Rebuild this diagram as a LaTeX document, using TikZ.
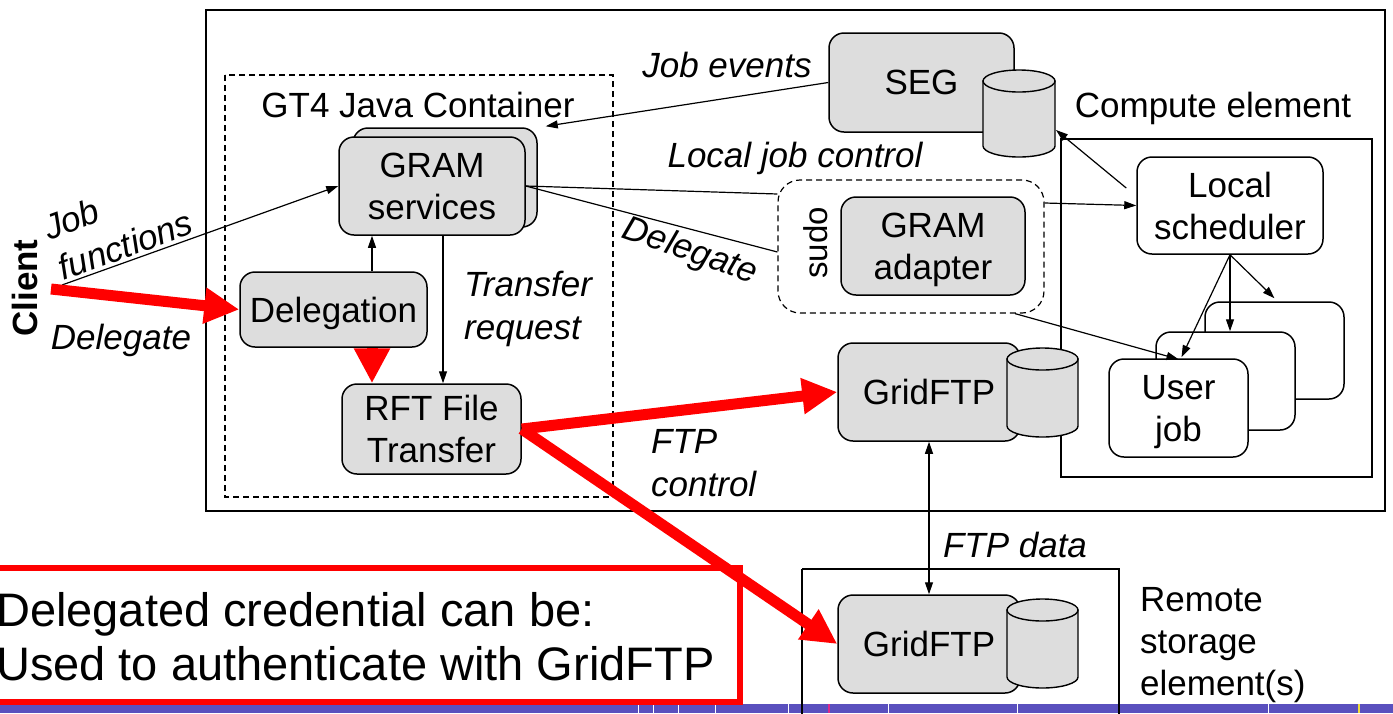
\documentclass[tikz,border=0pt]{standalone}
\usepackage{fontspec}
\setmainfont{Liberation Sans}
\usetikzlibrary{arrows.meta,calc}
\definecolor{boxgray}{RGB}{221,221,221}
\definecolor{stripblue}{RGB}{90,80,190}
\definecolor{pinktick}{RGB}{220,40,140}
\definecolor{yellowtick}{RGB}{240,220,60}
\newcommand{\mycyl}[4]{%
  \filldraw[fill=boxgray, line width=1.4pt] (#1,#3+11) -- (#1,#4-11)
    arc[start angle=180, end angle=0, x radius={(#2-#1)/2}, y radius=11] -- (#2,#3+11) -- cycle;
  \filldraw[fill=boxgray, line width=1.4pt] ({(#1+#2)/2},#3+11) ellipse[x radius={(#2-#1)/2}, y radius=11];
}
\begin{document}
\begin{tikzpicture}[x=1pt,y=-1pt,
  every node/.style={font=\fontsize{35}{42}\selectfont, inner sep=0pt, align=center},
  gbox/.style={draw, line width=1.5pt, fill=boxgray, rounded corners=15pt, text depth=0pt},
  wbox/.style={draw, line width=1.5pt, fill=white, rounded corners=15pt, text depth=0pt},
  lbl/.style={font=\fontsize{35}{43}\selectfont\itshape},
  dashline/.style={dash pattern=on 6pt off 4pt, line width=1.2pt},
  thinline/.style={line width=1.2pt},
  tarrow/.style={line width=1.2pt, -{Triangle[length=12pt,width=8pt]}},
  redarrow/.style={draw=red, line width=11pt, -{Triangle[length=35pt,width=34pt]}},
]
\useasboundingbox (0,0) rectangle (1393,713);
\fill[white] (0,0) rectangle (1393,713);

% bottom strip
\fill[stripblue] (0,704) rectangle (1393,713);
\foreach \xx in {638,653,678,715,788,888,1017,1268}
  \draw[white, line width=1pt] (\xx,704) -- (\xx,713);
\draw[pinktick, line width=1.5pt] (829,704) -- (829,713);
\draw[yellowtick, line width=1.5pt] (1359,704) -- (1359,713);

% frames
\draw[line width=2pt] (206,10) rectangle (1385,511);
\draw[line width=1.6pt] (1061,139) rectangle (1372,477);
\draw[dashline] (225,75) rectangle (613,497);
\draw[line width=1.4pt] (802,569) -- (802,715) (802,569) -- (1119,569) -- (1119,715);

% labels
\node (gt4) at (418,105) {GT4 Java Container};
\node (celabel) at (1213,108) {Compute element};
\node[anchor=west, align=left] (remlabel) at (1140,645) {Remote\\storage\\element(s)};
\node[font=\fontsize{35}{42}\selectfont\bfseries, rotate=90] (client) at (25,288) {Client};

% GRAM services
\node[gbox, minimum width=184pt, minimum height=99pt] (gramback) at (445,177.5) {};
\node[gbox, minimum width=186pt, minimum height=98pt] (gram) at (432,186) {GRAM\\services};
\node[gbox, minimum width=187pt, minimum height=75pt] (deleg) at (333.5,309.5) {Delegation};
\node[gbox, minimum width=179pt, minimum height=90pt] (rft) at (431.5,429) {RFT File\\Transfer};

% SEG
\node[gbox, minimum width=185pt, minimum height=99pt] (seg) at (921.5,82.5) {SEG};
\mycyl{983}{1055}{70}{157}
\coordinate (segcyl) at (1056,130);

% sudo / adapter
\node[draw, dashline, rounded corners=22pt, minimum width=266pt, minimum height=133pt] (sudo) at (911,246.5) {};
\node[font=\fontsize{33}{40}\selectfont, rotate=90] (sudotext) at (816,243) {sudo};
\node[gbox, minimum width=184pt, minimum height=98pt] (adapter) at (933,246) {GRAM\\adapter};

% compute element contents
\node[wbox, minimum width=186pt, minimum height=97pt] (local) at (1230,205.5) {Local\\scheduler};
\node[wbox, minimum width=139pt, minimum height=97pt] (uj3) at (1274.5,350.5) {};
\node[wbox, minimum width=139pt, minimum height=98pt] (uj2) at (1225.5,381) {};
\node[wbox, minimum width=139pt, minimum height=98pt] (uj1) at (1178.5,408) {User\\job};

% GridFTP
\node[gbox, minimum width=182pt, minimum height=98pt] (gftp1) at (929,392) {GridFTP};
\mycyl{1007}{1078}{348}{437}
\node[gbox, minimum width=182pt, minimum height=98pt] (gftp2) at (929,644) {GridFTP};
\mycyl{1007}{1078}{599}{688}

% callout
\draw[red, line width=6pt, fill=white] (-20,568) rectangle (740,702);
\node[anchor=west, align=left, font=\fontsize{47}{54}\selectfont] (callout) at (-4,637) {Delegated credential can be:\\Used to authenticate with GridFTP};

% edge labels
\node[lbl, rotate=20, align=left] (jflabel) at (118,225) {Job\\functions};
\node[lbl] (dlabel1) at (121,340) {Delegate};
\node[lbl] (jelabel) at (727,65) {Job events};
\node[lbl] (ljclabel) at (795,158) {Local job control};
\node[lbl, rotate=-19] (dlabel2) at (690,252) {Delegate};
\node[lbl, anchor=west, align=left] (trlabel) at (464,309) {Transfer\\request};
\node[lbl, anchor=west, align=left] (ftpclabel) at (651,463) {FTP\\control};
\node[lbl] (ftpdlabel) at (1015,545) {FTP data};

% thin connectors
\coordinate (clientpt) at (51,289);
\coordinate (jfstart) at (62,285);
\draw[tarrow] (jfstart) -- (gram.west);
\draw[tarrow] ([xshift=38.5pt]deleg.north) -- ([xshift=38.5pt]deleg.north |- gram.south);
\draw[tarrow] ([xshift=11pt]gram.south) -- ([xshift=11pt]gram.south |- rft.north);
\draw[tarrow] (seg.west) -- ([xshift=8pt,yshift=1pt]gramback.north east);
\draw[thinline] (gram.east) -- ([yshift=52.5pt]sudo.west);
\draw[thinline] (gram.east) -- ([yshift=-5.5pt]sudo.west);
\draw[tarrow] ([yshift=43.5pt]sudo.east) -- (local.west);
\draw[tarrow] ([xshift=-10pt,yshift=17.5pt]local.west) -- (segcyl);
\draw[tarrow] (local.south) -- ([yshift=3pt]uj3.north);
\draw[tarrow] (local.south) -- (local.south |- uj2.north);
\draw[tarrow] (local.south) -- ([xshift=3pt,yshift=1pt]uj1.north);
\draw[tarrow] ([xshift=104pt]sudo.south) -- ([yshift=-1pt]uj1.north);
\draw[line width=1.2pt, {Triangle[length=12pt,width=8pt]}-{Triangle[length=12pt,width=8pt]}] (gftp1.south) -- (gftp2.north);

% red connectors
\draw[redarrow] (clientpt) -- (deleg.west);
\draw[redarrow] ([xshift=38.5pt]deleg.south) -- ([xshift=38.5pt]deleg.south |- rft.north);
\draw[redarrow] (rft.east) -- (gftp1.west);
\draw[redarrow] (rft.east) -- (gftp2.west);
\end{tikzpicture}
\end{document}
